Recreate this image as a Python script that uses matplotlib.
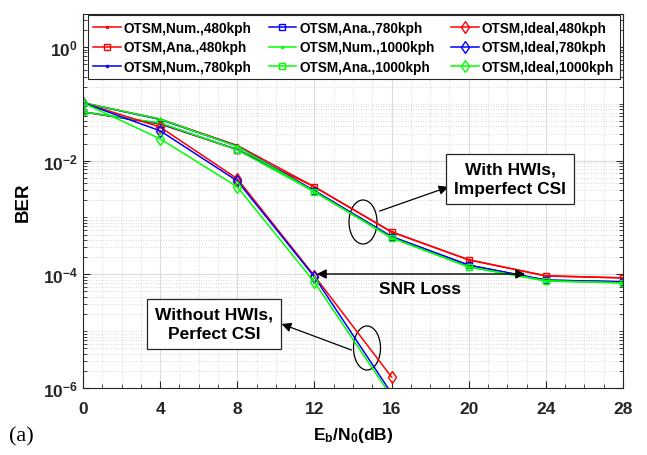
# BER vs Eb/N0 for OTSM, with and without hardware impairments
import matplotlib
matplotlib.use("Agg")
import matplotlib.pyplot as plt
from matplotlib.patches import Ellipse
from matplotlib.ticker import FixedLocator, LogLocator, FuncFormatter, NullFormatter, MultipleLocator
import numpy as np

plt.rcParams['font.family'] = ['Liberation Sans', 'DejaVu Sans']
plt.rcParams['font.weight'] = 'bold'
plt.rcParams['mathtext.fontset'] = 'custom'
plt.rcParams['mathtext.rm'] = 'Liberation Sans:bold'
plt.rcParams['mathtext.bf'] = 'Liberation Sans:bold'
plt.rcParams['mathtext.it'] = 'Liberation Sans:bold'

snr = [0, 4, 8, 12, 16, 20, 24, 28]
snr_ideal = [0, 4, 8, 12, 16]

num_480 = [0.104, 0.054, 0.0185, 3.46e-3, 5.57e-4, 1.80e-4, 9.4e-5, 8.65e-5]
num_780 = [0.104, 0.053, 0.0180, 2.95e-3, 4.60e-4, 1.45e-4, 7.9e-5, 7.4e-5]
num_1000 = [0.104, 0.054, 0.0178, 2.83e-3, 4.38e-4, 1.35e-4, 7.66e-5, 7.07e-5]
ana_480 = [0.072, 0.044, 0.0156, 3.46e-3, 5.57e-4, 1.80e-4, 9.4e-5, 8.65e-5]
ana_780 = [0.072, 0.045, 0.0157, 2.95e-3, 4.60e-4, 1.45e-4, 7.9e-5, 7.4e-5]
ana_1000 = [0.072, 0.046, 0.0155, 2.83e-3, 4.38e-4, 1.35e-4, 7.66e-5, 7.07e-5]
ideal_480 = [0.104, 0.039, 4.8e-3, 9.4e-5, 1.56e-6]
ideal_780 = [0.104, 0.0335, 4.4e-3, 9.0e-5, 8.0e-7]
ideal_1000 = [0.104, 0.0242, 3.46e-3, 7.3e-5, 7.0e-7]

W, H = 647, 456
fig = plt.figure(figsize=(W / 100, H / 100), dpi=100)
ax = fig.add_axes([83 / W, 1 - 389 / H, 540 / W, 374 / H])

red, blue, green = (1, 0, 0), (0, 0, 1), (0, 1, 0)
series = [
    (snr, num_480, red, '.', "OTSM,Num.,480kph"),
    (snr, ana_480, red, 's', "OTSM,Ana.,480kph"),
    (snr, num_780, blue, '.', "OTSM,Num.,780kph"),
    (snr, ana_780, blue, 's', "OTSM,Ana.,780kph"),
    (snr, num_1000, green, '.', "OTSM,Num.,1000kph"),
    (snr, ana_1000, green, 's', "OTSM,Ana.,1000kph"),
    (snr_ideal, ideal_480, red, 'd', "OTSM,Ideal,480kph"),
    (snr_ideal, ideal_780, blue, 'd', "OTSM,Ideal,780kph"),
    (snr_ideal, ideal_1000, green, 'd', "OTSM,Ideal,1000kph"),
]
for x, y, c, m, lab in series:
    ms = 3 if m == '.' else (5 if m == 's' else 6)
    ax.semilogy(x, y, color=c, marker=m, ms=ms, mfc='none', mec=c, lw=1.1, label=lab)

ax.set_xlim(0, 28)
ax.set_ylim(1e-6, 10 ** 0.58)
ax.xaxis.set_major_locator(MultipleLocator(4))
ax.xaxis.set_minor_locator(MultipleLocator(1))
ax.yaxis.set_major_locator(FixedLocator([1e-6, 1e-4, 1e-2, 1]))
ax.yaxis.set_minor_locator(LogLocator(base=10, subs=np.arange(1, 10), numticks=50))
ax.yaxis.set_major_formatter(FuncFormatter(lambda v, p: r'$\mathbf{10^{%d}}$' % round(np.log10(v))))
ax.yaxis.set_minor_formatter(NullFormatter())
ax.tick_params(which='both', direction='in', top=True, right=True, labelsize=12.5, colors='#262626')
ax.tick_params(axis='x', which='major', pad=9)
ax.tick_params(which='major', length=5, width=0.8)
ax.tick_params(which='minor', length=3, width=0.6)
for lbl in ax.get_xticklabels():
    lbl.set_fontweight('bold')
for sp in ax.spines.values():
    sp.set_color('#262626')
    sp.set_linewidth(0.8)

ax.grid(which='major', color='#dcdcdc', lw=0.8, ls='-')
ax.grid(which='minor', color='#cfcfcf', lw=0.6, ls=(0, (1, 2)))
ax.set_axisbelow(True)

ax.set_xlabel(r'$\mathbf{E_b/N_0}$(dB)', fontsize=12.5, fontweight='bold', labelpad=7)
ax.set_ylabel('BER', fontsize=13.5, fontweight='bold', labelpad=8)

leg = ax.legend(ncol=3, loc='upper left', bbox_to_anchor=(0.009, 0.997, 0.985, 0.0),
                mode='expand', borderaxespad=0, frameon=True, fancybox=False,
                handlelength=2.0, handletextpad=0.25, columnspacing=0.3, labelspacing=0.42,
                borderpad=0.4, prop={'weight': 'bold', 'size': 9.8})
leg.get_frame().set_edgecolor('#262626')
leg.get_frame().set_linewidth(0.8)
leg.get_frame().set_alpha(1)


def px(x, y):
    return (x / W, 1 - y / H)


tf = fig.transFigure
# "With HWIs" annotation
fig.text(*px(510, 180), "With HWIs,\nImperfect CSI", ha='center', va='center', fontsize=12.5,
         fontweight='bold', linespacing=1.4,
         bbox=dict(boxstyle='square,pad=0.45', fc='white', ec='#262626', lw=0.9))
ax.add_patch(Ellipse(px(363, 223), 28 / W, 44 / H, transform=tf, fill=False, ec='black', lw=0.9))
ax.annotate('', xy=px(451, 187), xytext=px(377, 213), xycoords=tf, textcoords=tf,
            arrowprops=dict(arrowstyle='-|>', color='black', lw=0.9, mutation_scale=14))

# "Without HWIs" annotation
fig.text(*px(214, 325), "Without HWIs,\nPerfect CSI", ha='center', va='center', fontsize=12.5,
         fontweight='bold', linespacing=1.4,
         bbox=dict(boxstyle='square,pad=0.45', fc='white', ec='#262626', lw=0.9))
ax.add_patch(Ellipse(px(367, 349), 27 / W, 44 / H, transform=tf, fill=False, ec='black', lw=0.9))
ax.annotate('', xy=px(279, 324), xytext=px(354, 352), xycoords=tf, textcoords=tf,
            arrowprops=dict(arrowstyle='-|>', color='black', lw=0.9, mutation_scale=14))

# SNR loss arrow
ax.annotate('', xy=px(314, 275), xytext=px(528, 275), xycoords=tf, textcoords=tf,
            arrowprops=dict(arrowstyle='<|-|>', color='black', lw=1.0, mutation_scale=14))
fig.text(*px(420, 290), "SNR Loss", ha='center', va='center', fontsize=12.5, fontweight='bold')

fig.text(*px(21, 437), "(a)", ha='center', va='center', fontsize=16, fontweight='normal',
         family=['Liberation Serif', 'DejaVu Serif'])

fig.savefig("out.png", dpi=100)
